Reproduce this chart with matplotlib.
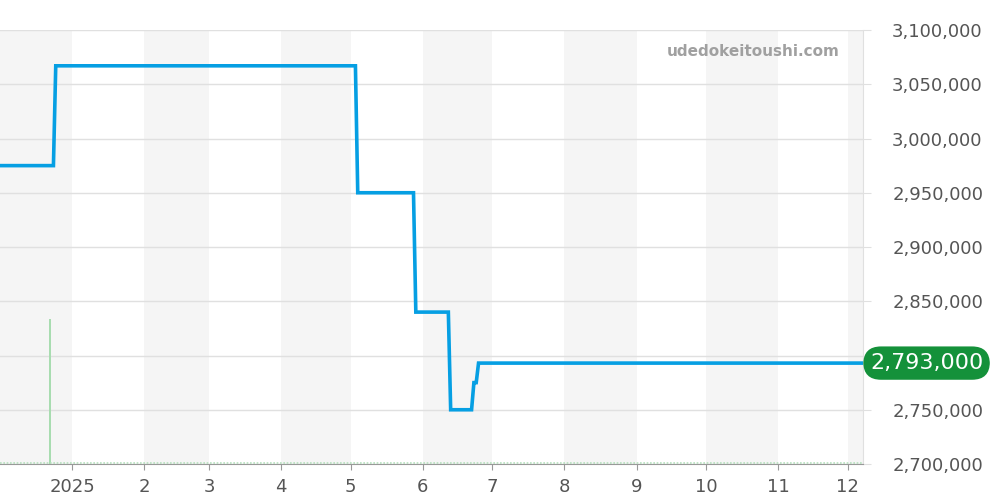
import matplotlib
matplotlib.use("Agg")
import matplotlib.pyplot as plt
import pandas as pd

# price steps (date, yen)
price_dates = ["2024-12-01", "2024-12-24", "2024-12-25", "2025-05-03", "2025-05-04",
               "2025-05-28", "2025-05-29", "2025-06-12", "2025-06-13", "2025-06-22",
               "2025-06-23", "2025-06-24", "2025-06-25", "2025-12-07"]
price_values = [2975000, 2975000, 3067000, 3067000, 2950000,
                2950000, 2840000, 2840000, 2750000, 2750000,
                2775000, 2775000, 2793000, 2793000]

volume_dates = ["2024-12-22 12:00"]
volume_values = [1]

y_ticks = [2700000, 2750000, 2800000, 2850000, 2900000, 2950000, 3000000, 3050000, 3100000]
month_ticks = ["2025-01-01", "2025-02-01", "2025-03-01", "2025-04-01", "2025-05-01", "2025-06-01",
               "2025-07-01", "2025-08-01", "2025-09-01", "2025-10-01", "2025-11-01", "2025-12-01"]
month_labels = ["2025", "2", "3", "4", "5", "6", "7", "8", "9", "10", "11", "12"]
last_label = "2,793,000"
watermark = "udedokeitoushi.com"

px = pd.to_datetime(price_dates)
vx = pd.to_datetime(volume_dates)
mt = pd.to_datetime(month_ticks)
x0 = pd.Timestamp("2024-12-01")
x1 = pd.Timestamp("2025-12-07 12:00")

fig = plt.figure(figsize=(10, 5), dpi=100)
ax = fig.add_axes([0.0, 0.072, 0.863, 0.868])
ax2 = ax.twinx()
ax3 = ax.twinx()

# alternating month shading
edges = [x0] + list(mt) + [x1]
for i in range(len(edges) - 1):
    if i % 2 == 0:
        ax.axvspan(edges[i], edges[i + 1], color="#f5f5f5", lw=0, zorder=0)

ax.set_xlim(x0, x1)
ax.set_ylim(2700000, 3100000)
ax.yaxis.tick_right()
ax.set_yticks(y_ticks)
# the 2,800,000 label sits under the last-price badge
ax.set_yticklabels(["" if v == 2800000 else f"{v:,}" for v in y_ticks])
ax.grid(axis="y", color="#e0e0e0", lw=1)
ax.set_axisbelow(True)
ax.tick_params(axis="y", length=6, color="#e0e0e0", pad=15, labelsize=13, labelcolor="#555555")
ax.set_xticks(mt)
ax.set_xticklabels(month_labels)
ax.tick_params(axis="x", length=4, color="#999999", pad=6, labelsize=13, labelcolor="#555555")
for s in ["top", "left"]:
    ax.spines[s].set_visible(False)
ax.spines["right"].set_color("#e0e0e0")
ax.spines["bottom"].set_color("#999999")

# volume on hidden secondary axis
ax2.set_ylim(0, 3)
ax2.bar(vx, volume_values, width=0.8, color="#a8dcb0", zorder=2)
ax2.axhline(0.004, color="#b5e0bd", lw=1.2, ls=(0, (1, 1)), zorder=2)
ax2.axis("off")

ax3.set_ylim(ax.get_ylim())
ax3.axis("off")
ax3.plot(px, price_values, color="#069fe3", lw=2.6, zorder=3, solid_joinstyle="miter")
ax3.set_xlim(x0, x1)

ax3.annotate(last_label, xy=(1.0, price_values[-1]), xycoords=("axes fraction", "data"),
             xytext=(5, 0), textcoords="offset points", ha="left", va="center",
             fontsize=16, color="white",
             bbox=dict(boxstyle="round,pad=0.3,rounding_size=0.8", fc="#14913a", ec="none"),
             annotation_clip=False)

fig.text(0.840, 0.896, watermark, ha="right", va="center", fontsize=11,
         fontweight="bold", color="#a0a0a0")

fig.savefig("out.png", dpi=100)
